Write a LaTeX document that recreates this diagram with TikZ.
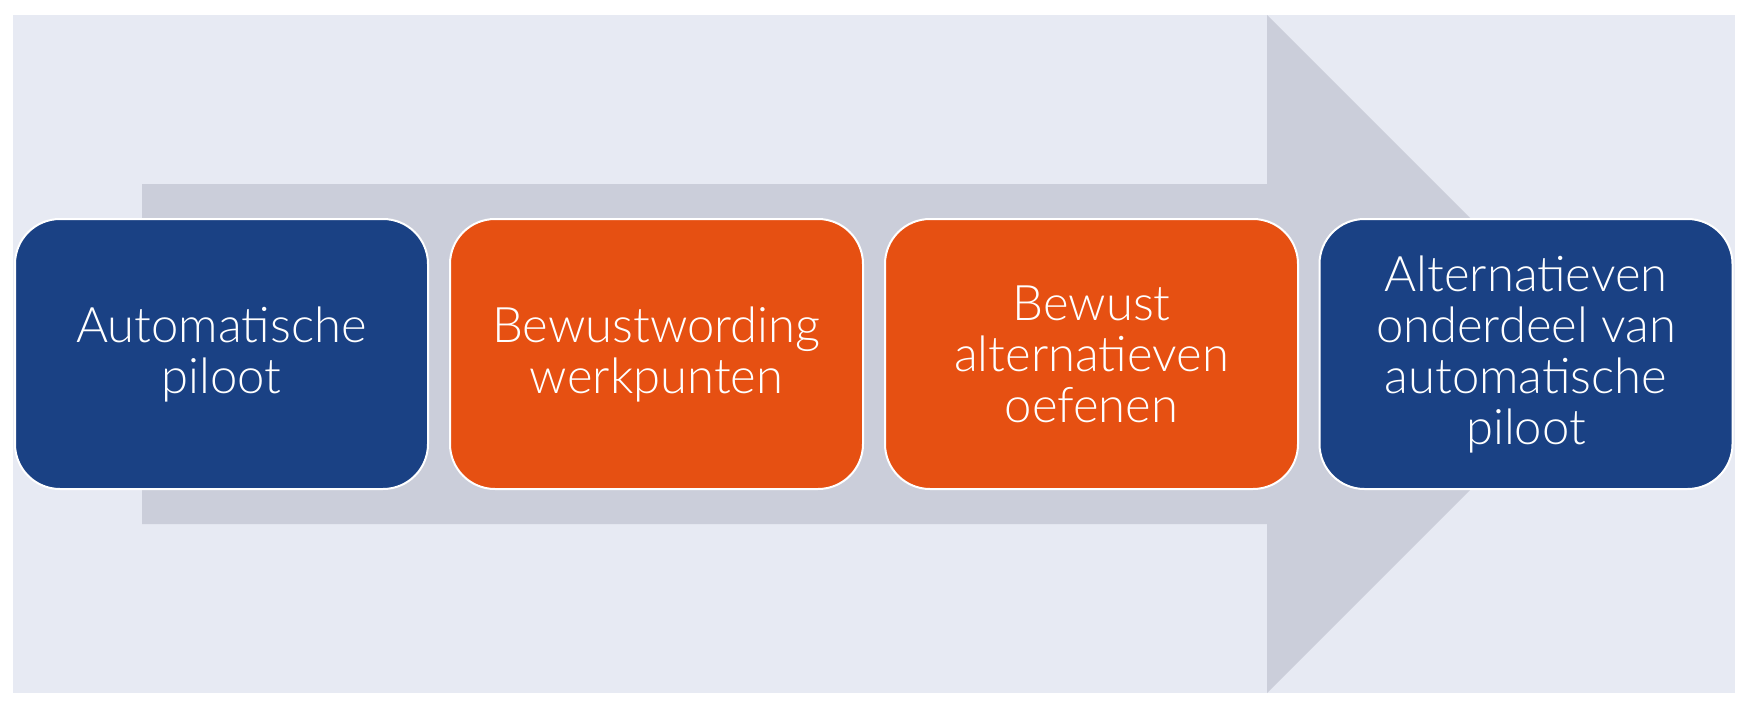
\documentclass[tikz,border=0pt]{standalone}
\usepackage{fontspec}
\setmainfont{Lato Light}
\definecolor{bgcol}{HTML}{E7EAF3}
\definecolor{arrowcol}{HTML}{CBCEDA}
\definecolor{bluecol}{HTML}{1A4184}
\definecolor{orangecol}{HTML}{E65012}
\tikzset{
  stepbox/.style={rectangle, rounded corners=45pt, draw=white, line width=2pt,
    minimum width=413pt, minimum height=270pt, inner sep=0pt,
    text=white, align=center, font=\fontsize{49pt}{51pt}\selectfont},
  bluebox/.style={stepbox, fill=bluecol},
  orangebox/.style={stepbox, fill=orangecol}
}
\begin{document}
\begin{tikzpicture}[x=1pt,y=-1pt]
\useasboundingbox (0,0) rectangle (1754,710);
\fill[white] (0,0) rectangle (1754,710);
\fill[bgcol] (13,15) rectangle (1735,693);
\fill[arrowcol] (142,184) -- (1267,184) -- (1267,15) -- (1606,354) -- (1267,693) -- (1267,524) -- (142,524) -- cycle;
\node[bluebox] (b1) at (221.5,354) {Automatische\\piloot};
\node[orangebox] (b2) at (656.5,354) {Bewustwording\\werkpunten};
\node[orangebox] (b3) at (1091.5,354) {Bewust\\alternatieven\\oefenen};
\node[bluebox] (b4) at (1526,354) {Alternatieven\\onderdeel van\\automatische\\piloot};
\end{tikzpicture}
\end{document}
